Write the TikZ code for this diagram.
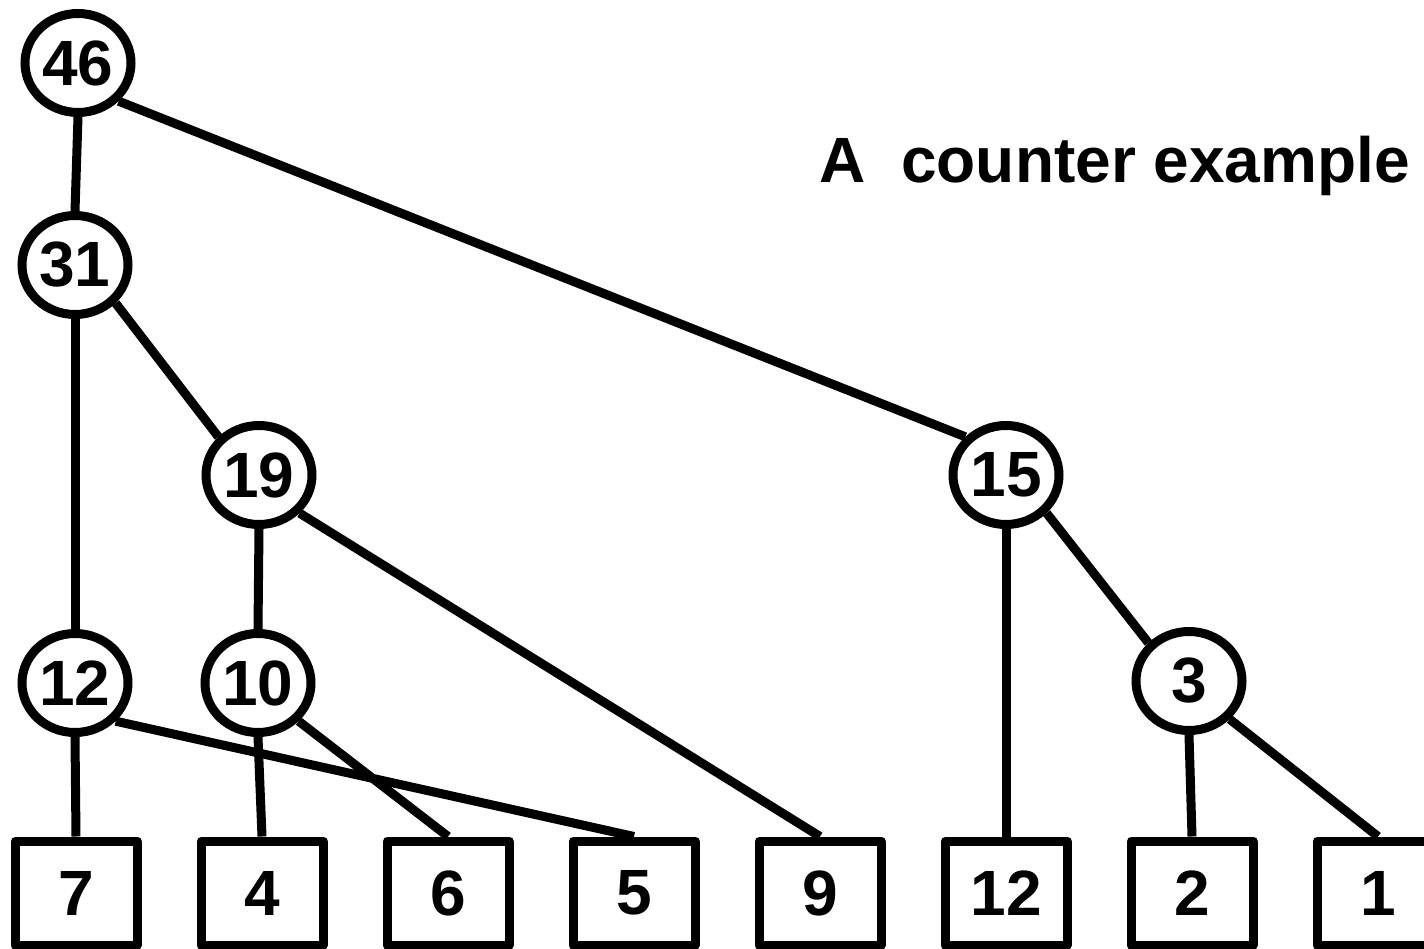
\documentclass[tikz,border=0pt]{standalone}
\usepackage{fontspec}
\setmainfont{Liberation Sans}
\usetikzlibrary{shapes.geometric}
\tikzset{
  innode/.style={ellipse, draw, line width=9pt, fill=white, minimum width=106pt, minimum height=99pt, inner sep=0pt},
  leaf/.style={rectangle, draw, line width=9pt, line join=round, fill=white, minimum width=122pt, minimum height=104pt, inner sep=0pt},
  edge/.style={line width=9pt}
}
\begin{document}
\begin{tikzpicture}[x=1pt, y=-1pt, font=\fontsize{64}{76}\selectfont\bfseries]
\useasboundingbox (0,0) rectangle (1424,949);
\node[innode] (n46) at (78,63) {46};
\node[innode] (n31) at (75,265) {31};
\node[innode] (n19) at (259,475) {19};
\node[innode] (n15) at (1006,475) {15};
\node[innode] (n12) at (75,683) {12};
\node[innode] (n10) at (258,683) {10};
\node[innode] (n3) at (1189,681) {3};
\foreach \w [count=\i from 0] in {7,4,6,5,9,12,2,1}
  \node[leaf] (l\i) at ({76+186*\i},893) {\w};
\node[anchor=base west] (title) at (816,183) {A\ \ counter example};
\draw[edge] (n46.south) -- (n31.north);
\draw[edge] (n46.south east) -- (n15.north west);
\draw[edge] (n31.south) -- (n12.north);
\draw[edge] (n31.south east) -- (n19.north west);
\draw[edge] (n19.south) -- (n10.north);
\draw[edge] (n19.south east) -- (l4.north);
\draw[edge] (n15.south) -- (l5.north);
\draw[edge] (n15.south east) -- (n3.north west);
\draw[edge] (n12.south) -- (l0.north);
\draw[edge] (n12.south east) -- (l3.north);
\draw[edge] (n10.south) -- (l1.north);
\draw[edge] (n10.south east) -- (l2.north);
\draw[edge] (n3.south) -- (l6.north);
\draw[edge] (n3.south east) -- (l7.north);
\end{tikzpicture}
\end{document}
